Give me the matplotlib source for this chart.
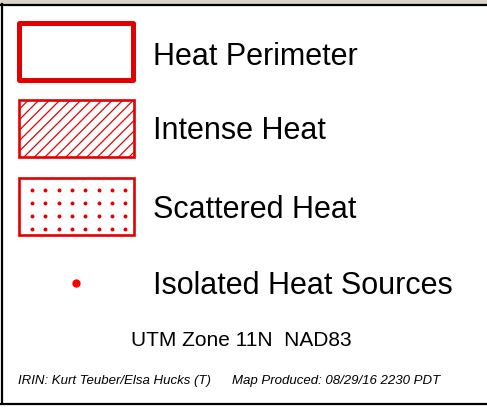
import matplotlib.pyplot as plt
from matplotlib.patches import Rectangle
from matplotlib import font_manager
import numpy as np

# legend entries
labels = ['Heat Perimeter', 'Intense Heat', 'Scattered Heat', 'Isolated Heat Sources']
projection = 'UTM Zone 11N  NAD83'
credit = 'IRIN: Kurt Teuber/Elsa Hucks (T)'
produced = 'Map Produced: 08/29/16 2230 PDT'
dot_cols = 8
dot_rows = 4

RED = '#e40000'
plt.rcParams['font.family'] = ['Liberation Sans', 'DejaVu Sans']
names = {f.name for f in font_manager.fontManager.ttflist}
narrow = 'Liberation Sans Narrow' in names
print('narrow available:', narrow)

fig = plt.figure(figsize=(4.87, 4.09), dpi=100)
ax = fig.add_axes([0, 0, 1, 1])
ax.set_xlim(0, 487)
ax.set_ylim(409, 0)
ax.axis('off')

# map strip peeking above the panel
ax.add_patch(Rectangle((0, 0), 487, 4, facecolor='#d9d3c8', edgecolor='none'))
# panel frame
ax.plot([1.5, 1.5], [4, 403], color='black', lw=1.6)
ax.plot([0, 487], [4.5, 4.5], color='black', lw=1.6)
ax.plot([0, 487], [403.5, 403.5], color='black', lw=1.6)

# heat perimeter
ax.add_patch(Rectangle((19, 23), 114, 57, facecolor='none', edgecolor=RED,
                       lw=3.6, joinstyle='round'))

# intense heat: hatched box
box = Rectangle((19, 100), 115, 57, facecolor='none', edgecolor=RED, lw=1.9)
ax.add_patch(box)
clip = Rectangle((19, 100), 115, 57, transform=ax.transData)
for x0 in np.arange(-60, 140, 10.5):
    ln, = ax.plot([x0, x0 + 57], [157, 100], color=RED, lw=0.9)
    ln.set_clip_path(clip)

# scattered heat: dotted box
ax.add_patch(Rectangle((19, 178), 115, 57, facecolor='none', edgecolor=RED, lw=1.9))
gx, gy = np.meshgrid(np.arange(dot_cols), np.arange(dot_rows))
ax.scatter(32 + gx.ravel() * 13.3, 189.5 + gy.ravel() * 13.3, s=8, color=RED, lw=0)

# isolated heat source
ax.scatter([76], [283], s=36, color='#ff0000', lw=0)

for lab, y in zip(labels, [57, 131, 210, 286]):
    ax.text(153, y, lab, fontsize=22, va='center', ha='left', color='black')

ax.text(241, 341, projection, fontsize=15, va='center', ha='center')
if narrow:
    ff, fs = ['Liberation Sans Narrow', 'DejaVu Sans'], 11.3
else:
    ff, fs = ['Liberation Sans', 'DejaVu Sans'], 9.5
ax.text(18, 381, credit, fontsize=fs, family=ff, style='italic', va='center', ha='left')
ax.text(232, 381, produced, fontsize=fs, family=ff, style='italic', va='center', ha='left')

fig.savefig('out.png', dpi=100)
